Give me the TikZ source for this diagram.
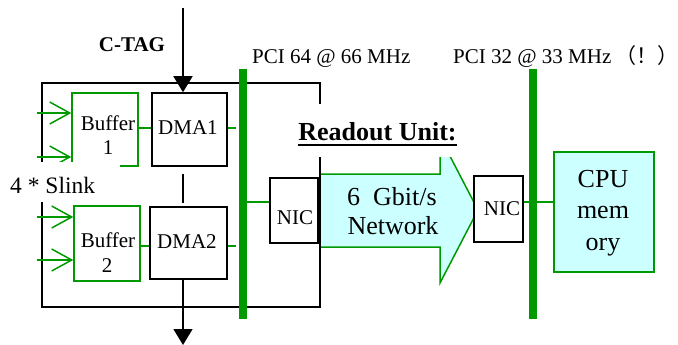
\documentclass[tikz,border=0pt]{standalone}
\usepackage{fontspec}
\setmainfont{Liberation Serif}
\newfontfamily\cjkfont{Noto Sans CJK SC}
\usetikzlibrary{arrows.meta,calc}
\definecolor{pgreen}{RGB}{0,153,0}
\definecolor{pcyan}{RGB}{204,255,255}
\begin{document}
\begin{tikzpicture}[x=1pt,y=-1pt,
  blk/.style={draw=black,line width=1.5pt},
  gln/.style={draw=pgreen,line width=1.5pt},
  busline/.style={draw=pgreen,line width=8pt},
  bbox/.style={draw=black,line width=1.5pt,fill=white,inner sep=0pt},
  gbox/.style={draw=pgreen,line width=1.5pt,inner sep=0pt},
  cbox/.style={draw=pgreen,line width=1.5pt,fill=pcyan,inner sep=0pt},
  txt/.style={inner sep=0pt,anchor=base,font=\fontsize{21}{24}\selectfont},
  bigtxt/.style={inner sep=0pt,anchor=base,font=\fontsize{26}{30}\selectfont},
  blank/.style={fill=white,draw=none,inner sep=0pt},
  inarrow/.style={gln,-{Straight Barb[length=20pt,width=22pt,line width=1.5pt]}},
  bigtip/.style={blk,-{Triangle[length=16pt,width=19pt]}}
]
\useasboundingbox (0,0) rectangle (678,345);

% network arrow
\path[cbox] (320,174) -- (440,174) -- (440,137) -- (478,210) -- (440,283)
  -- (440,247) -- (320,247) -- cycle;

% readout unit outline
\draw[blk] (42,83) rectangle (320,307);

% buffer 1 box and inputs
\node[gbox,minimum width=66pt,minimum height=73pt] (buf1) at (105,129.5) {};
\coordinate (in1a) at (37,113);
\coordinate (in1b) at (37,157);
\draw[inarrow] (in1a) -- (in1a -| buf1.west);
\draw[inarrow] (in1b) -- (in1b -| buf1.west);

% white label backgrounds
\node[blank,minimum width=120pt,minimum height=40pt] (slinkbg) at (60,182) {};
\node[blank,minimum width=172pt,minimum height=53pt] (robg) at (376,130.5) {};

% buses
\coordinate (b1top) at (243,69);
\coordinate (b1bot) at (243,319);
\coordinate (b2top) at (533,69);
\coordinate (b2bot) at (533,319);
\coordinate (netline) at (0,202);

% boxes
\node[bbox,minimum width=75pt,minimum height=73pt] (dma1) at (189.5,129.5) {};
\node[bbox,minimum width=77pt,minimum height=72pt] (dma2) at (188.5,243) {};
\node[gbox,minimum width=66pt,minimum height=75pt] (buf2) at (107,243.5) {};
\node[bbox,minimum width=48pt,minimum height=65pt] (nic1) at (294,210.5) {};
\node[bbox,minimum width=49pt,minimum height=66pt] (nic2) at (498.5,209) {};
\node[cbox,minimum width=100pt,minimum height=120pt] (cpu) at (604,212) {};

\draw[busline] (b1top) -- (b1bot);
\draw[busline] (b2top) -- (b2bot);

% buffer 2 inputs
\coordinate (in2a) at (37,217);
\coordinate (in2b) at (37,260);
\draw[inarrow] (in2a) -- (in2a -| buf2.west);
\draw[inarrow] (in2b) -- (in2b -| buf2.west);

% green connectors
\draw[gln] (buf1.east |- 0,128) -- (dma1.west |- 0,128);
\draw[gln] (dma1.east |- 0,128) -- ++(8,0);
\draw[gln] (buf2.east |- 0,246) -- (dma2.west |- 0,246);
\draw[gln] (dma2.east |- 0,246) -- ++(8,0);
\draw[gln] (b1top |- netline) -- (nic1.west |- netline);
\draw[gln] (nic2.east |- netline) -- (cpu.west |- netline);

% black connectors
\coordinate (ctagtop) at (183,8);
\coordinate (outbot) at (183,345);
\draw[bigtip] (ctagtop) -- (ctagtop |- dma1.north);
\draw[blk] ($(ctagtop |- dma1.south)+(0,7)$) -- ($(ctagtop |- dma2.north)+(0,-3)$);
\draw[bigtip] (ctagtop |- dma2.south) -- (outbot);

% texts
\node[txt,font=\fontsize{21}{24}\selectfont\bfseries] (ctag) at (132,52) {C-TAG};
\node[txt,anchor=base west] (pci64) at (252,64) {PCI 64 @ 66 MHz};
\node[txt,anchor=base west] (pci32) at (453,64) {PCI 32 @ 33 MHz\hspace{4pt}{\cjkfont （！）}};
\node[bigtxt,font=\fontsize{26}{30}\selectfont\bfseries] (ro) at (377.5,140.5) {Readout Unit:};
\draw[line width=2.5pt] ($(ro.base west)+(0,4.5)$) -- ($(ro.base east)+(0,4.5)$);
\node[txt] (b1a) at (108,130) {Buffer};
\node[txt] (b1b) at (108,154) {1};
\node[txt] (b2a) at (108,247) {Buffer};
\node[txt] (b2b) at (107,272) {2};
\node[txt] (d1) at (188,134) {DMA1};
\node[txt] (d2) at (187,248) {DMA2};
\node[txt] (n1) at (295,224) {NIC};
\node[txt] (n2) at (502,215) {NIC};
\node[txt,anchor=base west,font=\fontsize{23.5}{24}\selectfont] (slink) at (10,193) {4 * Slink};
\node[bigtxt] (g6) at (392,205) {6\ \ Gbit/s};
\node[bigtxt] (nw) at (393,234) {Network};
\node[bigtxt] (c1) at (603,187) {CPU};
\node[bigtxt] (c2) at (603,218) {mem};
\node[bigtxt] (c3) at (603,250) {ory};
\end{tikzpicture}
\end{document}
